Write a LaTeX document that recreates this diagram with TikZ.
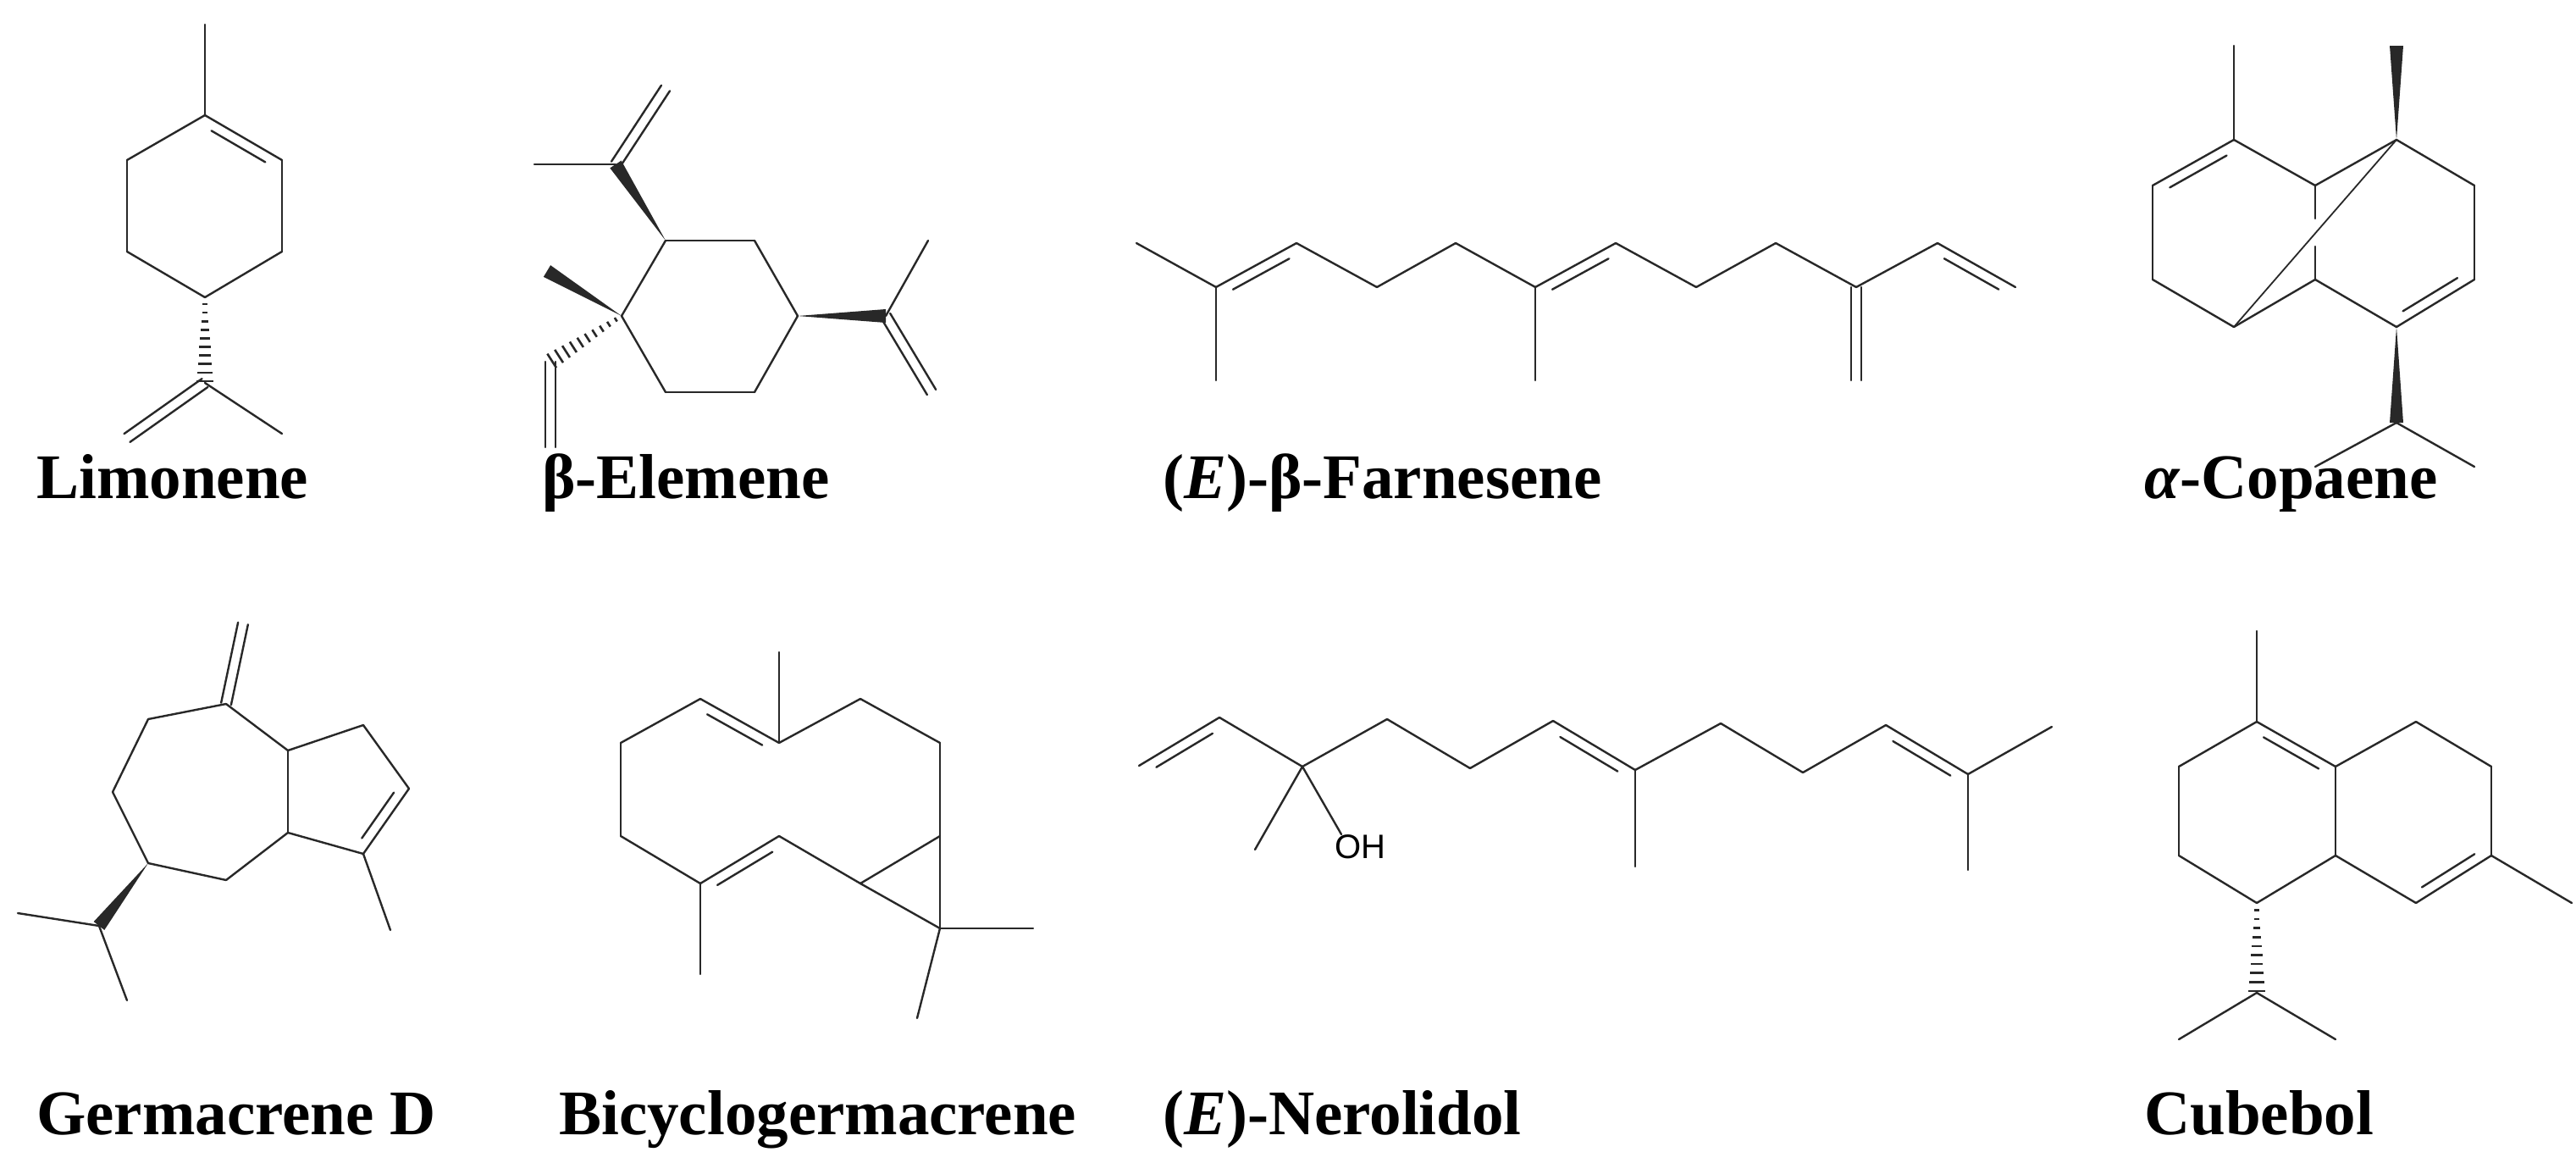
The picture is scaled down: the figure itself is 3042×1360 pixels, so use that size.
\documentclass[tikz,border=0pt]{standalone}
\usepackage{fontspec}
\setmainfont{Liberation Serif}
\newfontfamily\ohfont{Liberation Sans}
\usetikzlibrary{calc}
\definecolor{bc}{RGB}{40,40,40}
\tikzset{bond/.style={draw=bc,line width=2.4pt,line cap=round},
 lbl/.style={anchor=base west,inner sep=0pt,font=\fontsize{75}{80}\selectfont\bfseries}}
\newcommand\bd[2]{\draw[bond] (#1)--(#2);}
\newcommand\ib[3]{\path ($(#1)!0.15!(#2)$) coordinate (t1) ($(#1)!0.85!(#2)$) coordinate (t2);
 \draw[bond] ($(t1)!#3pt!90:(t2)$) -- ($(t2)!#3pt!-90:(t1)$);}
\newcommand\db[2]{\draw[bond] ($(#1)!6pt!90:(#2)$) -- ($(#2)!6pt!-90:(#1)$);
 \draw[bond] ($(#1)!6pt!-90:(#2)$) -- ($(#2)!6pt!90:(#1)$);}
\newcommand\wdg[2]{\fill[bc] (#1) -- ($(#2)!8pt!90:(#1)$) -- ($(#2)!8pt!-90:(#1)$) -- cycle;}
\newcommand\hsh[2]{\foreach \t in {0.08,0.18,...,0.98}{\pgfmathsetmacro\hw{2+8*\t}
 \path ($(#1)!\t!(#2)$) coordinate (hp);
 \draw[draw=bc,line width=2.6pt] ($(hp)!\hw pt!90:(#2)$) -- ($(hp)!\hw pt!90:(#1)$);}}
\begin{document}
\begin{tikzpicture}[x=1pt,y=-1pt]
\useasboundingbox (0,0) rectangle (3042,1360);
% Limonene
\foreach \n/\x/\y in {L0/242/29,L1/242/136,L2/333/189,L3/333/297,L4/242/351,L5/150/297,L6/150/189,L7/242/452,L8/150/517,L9/333/512}{\coordinate (\n) at (\x,\y);}
\bd{L0}{L1}\bd{L1}{L2}\ib{L1}{L2}{-12}\bd{L2}{L3}\bd{L3}{L4}\bd{L4}{L5}\bd{L5}{L6}\bd{L6}{L1}
\hsh{L4}{L7}\db{L7}{L8}\bd{L7}{L9}
% beta-Elemene
\foreach \n/\x/\y in {EA/786/284,EB/891/284,EC/942/373,ED/891/463,EE/786/463,EF/734/373,EiC/727/194,EiM/631/194,EiH/786/104,EFm/646/320,EV1/650/427,EV2/650/528,EcC/1046/373,EcM/1096/284,EcH/1100/463}{\coordinate (\n) at (\x,\y);}
\bd{EA}{EB}\bd{EB}{EC}\bd{EC}{ED}\bd{ED}{EE}\bd{EE}{EF}\bd{EF}{EA}
\wdg{EA}{EiC}\bd{EiC}{EiM}\db{EiC}{EiH}
\wdg{EF}{EFm}\hsh{EF}{EV1}\db{EV1}{EV2}
\wdg{EC}{EcC}\bd{EcC}{EcM}\db{EcC}{EcH}
% Farnesene
\foreach \n/\x/\y in {f1/1342/287,f2/1436/339,f3/1531/287,f4/1626/339,f5/1719/287,f6/1813/339,f7/1908/287,f8/2003/339,f9/2097/287,f10/2192/339,f11/2288/287,f12/2380/339,fm1/1436/449,fm2/1813/449,fm3/2192/449}{\coordinate (\n) at (\x,\y);}
\bd{f1}{f2}\bd{f2}{f3}\ib{f2}{f3}{-12}\bd{f3}{f4}\bd{f4}{f5}\bd{f5}{f6}\bd{f6}{f7}\ib{f6}{f7}{-12}
\bd{f7}{f8}\bd{f8}{f9}\bd{f9}{f10}\bd{f10}{f11}\bd{f11}{f12}\ib{f11}{f12}{-12}
\bd{f2}{fm1}\bd{f6}{fm2}\db{f10}{fm3}
% alpha-Copaene
\foreach \n/\x/\y in {c1/2638/165,cm/2638/54,c2/2542/219,c3/2542/330,c4/2638/386,c5/2734/330,c6/2734/219,c7/2830/165,c8/2922/219,c9/2922/330,c10/2830/386,cw/2830/54,cp/2830/499,cpa/2734/551,cpb/2922/551,cg1/2734/291,cg2/2734/258}{\coordinate (\n) at (\x,\y);}
\bd{cm}{c1}\bd{c1}{c2}\ib{c1}{c2}{12}\bd{c2}{c3}\bd{c3}{c4}\bd{c4}{c5}\bd{c5}{cg1}\bd{cg2}{c6}\bd{c6}{c1}
\bd{c6}{c7}\bd{c7}{c8}\bd{c8}{c9}\bd{c9}{c10}\ib{c9}{c10}{-12}\bd{c10}{c5}
\draw[draw=bc,line width=1.8pt] (c7)--(c4);
\wdg{c7}{cw}\wdg{c10}{cp}\bd{cp}{cpa}\bd{cp}{cpb}
% Germacrene D
\foreach \n/\x/\y in {g0/287/736,g1/267/831,g2/175/849,g3/133/935,g4/175/1019,g5/267/1039,g6/340/983,g7/340/886,g8/429/856,g9/483/931,g10/429/1008,gm/461/1098,gw/117/1093,ga/21/1078,gb/150/1181}{\coordinate (\n) at (\x,\y);}
\db{g1}{g0}\bd{g1}{g2}\bd{g2}{g3}\bd{g3}{g4}\bd{g4}{g5}\bd{g5}{g6}\bd{g6}{g7}\bd{g7}{g1}
\bd{g7}{g8}\bd{g8}{g9}\bd{g9}{g10}\ib{g9}{g10}{-12}\bd{g10}{g6}\bd{g10}{gm}
\wdg{g4}{gw}\bd{gw}{ga}\bd{gw}{gb}
% Bicyclogermacrene
\foreach \n/\x/\y in {b1/733/877,b2/827/825,b3/920/877,bm/920/770,b4/1016/825,b5/1110/877,b6/1110/987,b7/1016/1043,b8/920/987,b9/827/1043,b10/733/987,b9m/827/1150,b11/1110/1096,bx/1220/1096,by/1083/1202}{\coordinate (\n) at (\x,\y);}
\bd{b1}{b2}\bd{b2}{b3}\ib{b2}{b3}{-12}\bd{b3}{bm}\bd{b3}{b4}\bd{b4}{b5}\bd{b5}{b6}\bd{b6}{b7}\bd{b7}{b8}
\bd{b8}{b9}\ib{b8}{b9}{12}\bd{b9}{b10}\bd{b10}{b1}\bd{b9}{b9m}
\bd{b6}{b11}\bd{b7}{b11}\bd{b11}{bx}\bd{b11}{by}
% Nerolidol
\foreach \n/\x/\y in {n1/1345/904,n2/1440/847,n3/1538/905,nm/1482/1003,n4/1638/849,n5/1736/907,n6/1834/851,n7/1931/909,n7m/1931/1023,n8/2032/854,n9/2129/912,n10/2227/856,n11/2324/914,n11m/2324/1027,n12/2423/858}{\coordinate (\n) at (\x,\y);}
\node[anchor=north west,inner sep=0pt,font=\ohfont\fontsize{40}{44}\selectfont] (OH) at (1576,985) {OH};
\bd{n1}{n2}\ib{n1}{n2}{-12}\bd{n2}{n3}\bd{n3}{nm}\draw[bond] (n3)--([xshift=8pt]OH.north west);
\bd{n3}{n4}\bd{n4}{n5}\bd{n5}{n6}\bd{n6}{n7}\ib{n6}{n7}{-12}\bd{n7}{n7m}\bd{n7}{n8}\bd{n8}{n9}\bd{n9}{n10}
\bd{n10}{n11}\ib{n10}{n11}{-12}\bd{n11}{n11m}\bd{n11}{n12}
% Cubebol
\foreach \n/\x/\y in {k0/2665/745,k1/2665/852,k2/2573/905,k3/2573/1010,k4/2665/1066,k5/2758/1010,k6/2758/905,k7/2853/852,k8/2942/905,k9/2942/1010,k10/2853/1066,k9m/3037/1066,kp/2665/1172,ka/2573/1227,kb/2758/1227}{\coordinate (\n) at (\x,\y);}
\bd{k0}{k1}\bd{k1}{k2}\bd{k2}{k3}\bd{k3}{k4}\bd{k4}{k5}\bd{k5}{k6}\bd{k6}{k1}\ib{k1}{k6}{-12}
\bd{k6}{k7}\bd{k7}{k8}\bd{k8}{k9}\bd{k9}{k10}\ib{k9}{k10}{-12}\bd{k10}{k5}\bd{k9}{k9m}
\hsh{k4}{kp}\bd{kp}{ka}\bd{kp}{kb}
% labels
\node[lbl] (t1) at (43,588) {Limonene};
\node[lbl] (t2) at (640,588) {β-Elemene};
\node[lbl] (t3) at (1373,588) {(\textit{E})-β-Farnesene};
\node[lbl] (t4) at (2532,588) {\textit{α}-Copaene};
\node[lbl] (t5) at (43,1339) {Germacrene D};
\node[lbl] (t6) at (660,1339) {Bicyclogermacrene};
\node[lbl] (t7) at (1373,1339) {(\textit{E})-Nerolidol};
\node[lbl] (t8) at (2532,1339) {Cubebol};
\end{tikzpicture}
\end{document}
